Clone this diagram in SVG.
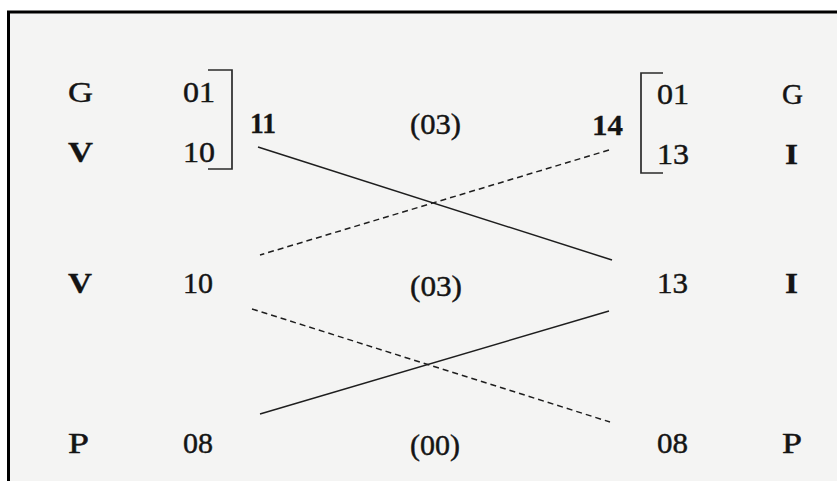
<svg xmlns="http://www.w3.org/2000/svg" width="837" height="481" viewBox="0 0 837 481">
<style>
text{font-family:"Liberation Serif","DejaVu Serif",serif;font-size:29px;fill:#141414;stroke:#141414;stroke-width:0.45}
.b{font-weight:bold;stroke-width:0.3}
.br{fill:none;stroke:#2a2a2a;stroke-width:1.7}
.s{stroke:#1e1e1e;stroke-width:1.5;fill:none}
.d{stroke:#1e1e1e;stroke-width:1.5;fill:none;stroke-dasharray:6 4}
</style>
<rect x="0" y="0" width="837" height="481" fill="#ffffff"/>
<rect x="9" y="12" width="828" height="469" fill="#f4f4f3"/>
<path d="M8.5 481 V12 H837" fill="none" stroke="#000" stroke-width="3"/>
<g id="row1-left">
<text x="68" y="102" textLength="25" lengthAdjust="spacingAndGlyphs">G</text>
<text x="183" y="102" textLength="32" lengthAdjust="spacingAndGlyphs">01</text>
<text class="b" x="68" y="162" textLength="25" lengthAdjust="spacingAndGlyphs">V</text>
<text x="183" y="162" textLength="32" lengthAdjust="spacingAndGlyphs">10</text>
<path class="br" d="M208 70 H232 V169 H208"/>
<text class="b" x="250" y="133" textLength="26" lengthAdjust="spacingAndGlyphs">11</text>
</g>
<g id="row1-mid">
<text x="410" y="134" textLength="51" lengthAdjust="spacingAndGlyphs">(03)</text>
</g>
<g id="row1-right">
<text class="b" x="592" y="135" textLength="31" lengthAdjust="spacingAndGlyphs">14</text>
<path class="br" d="M663 73 H641 V173 H663"/>
<text x="657" y="104" textLength="32" lengthAdjust="spacingAndGlyphs">01</text>
<text x="657" y="164" textLength="32" lengthAdjust="spacingAndGlyphs">13</text>
<text x="782" y="104" textLength="21" lengthAdjust="spacingAndGlyphs">G</text>
<text class="b" x="785" y="164" textLength="13" lengthAdjust="spacingAndGlyphs">I</text>
</g>
<g id="row2-left">
<text class="b" x="68" y="293" textLength="24" lengthAdjust="spacingAndGlyphs">V</text>
<text x="183" y="293" textLength="30" lengthAdjust="spacingAndGlyphs">10</text>
</g>
<g id="row2-mid">
<text x="410" y="296" textLength="52" lengthAdjust="spacingAndGlyphs">(03)</text>
</g>
<g id="row2-right">
<text x="657" y="293" textLength="31" lengthAdjust="spacingAndGlyphs">13</text>
<text class="b" x="785" y="293" textLength="13" lengthAdjust="spacingAndGlyphs">I</text>
</g>
<g id="row3-left">
<text x="68" y="453" textLength="21" lengthAdjust="spacingAndGlyphs">P</text>
<text x="183" y="453" textLength="30" lengthAdjust="spacingAndGlyphs">08</text>
</g>
<g id="row3-mid">
<text x="410" y="455" textLength="50" lengthAdjust="spacingAndGlyphs">(00)</text>
</g>
<g id="row3-right">
<text x="657" y="453" textLength="31" lengthAdjust="spacingAndGlyphs">08</text>
<text x="782" y="453" textLength="20" lengthAdjust="spacingAndGlyphs">P</text>
</g>
<g id="connectors">
<line class="s" x1="258" y1="147" x2="612" y2="260"/>
<line class="d" x1="609" y1="150" x2="260" y2="255"/>
<line class="d" x1="252" y1="309" x2="610" y2="422"/>
<line class="s" x1="260" y1="414" x2="609" y2="311"/>
</g>
</svg>
